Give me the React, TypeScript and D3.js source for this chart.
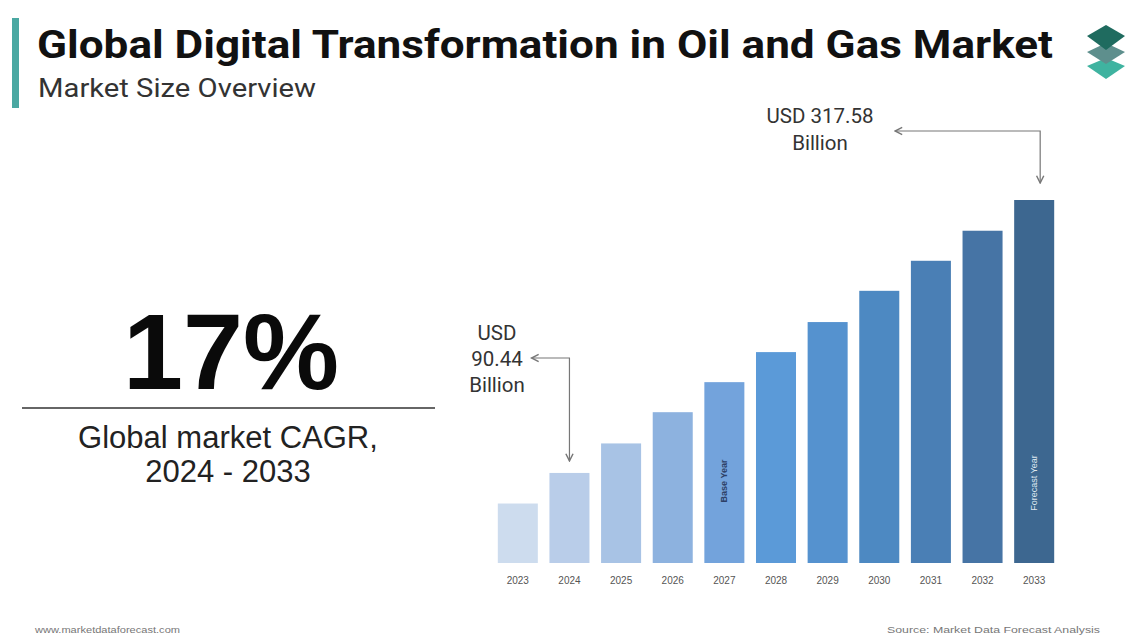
import React from 'react';
import * as d3 from 'd3';

// Market size by year (USD billion)
const years = ['2023', '2024', '2025', '2026', '2027', '2028', '2029', '2030', '2031', '2032', '2033'];
const marketSize = [65, 90.44, 115, 141, 166, 191, 216, 242, 267, 292, 317.58];
const barColors = [
  '#cddcee', '#b9cde9', '#a8c3e5', '#8db2df', '#73a3dc', '#5b9ad8',
  '#5592cf', '#4d89c2', '#4a7fb5', '#4674a5', '#3d6790',
];
const startLabel = ['USD', '90.44', 'Billion'];
const endLabel = ['USD 317.58', 'Billion'];

const W = 1135;
const H = 637;
const baseY = 563;

export default function App() {
  const x = d3.scaleBand<string>()
    .domain(years)
    .range([492, 1060])
    .paddingInner(0.225)
    .paddingOuter(0.1125);

  // the bars are drawn from an offset baseline, not from zero
  const y = d3.scaleLinear()
    .domain([15.5, d3.max(marketSize) as number])
    .range([baseY, 200]);

  const bw = x.bandwidth();
  const cx = (yr: string) => (x(yr) as number) + bw / 2;

  // annotation anchors
  const firstX = cx('2024');
  const firstTop = y(marketSize[1]);
  const lastX = cx('2033') + 6;
  const lastTop = y(marketSize[10]);

  return (
    <svg
      width={W}
      height={H}
      style={{ position: 'absolute', left: 0, top: 0, background: '#fff' }}
    >
      <defs>
        <marker id="head" viewBox="0 0 8 8" refX="7" refY="4" markerWidth="8" markerHeight="8" orient="auto-start-reverse">
          <path d="M1,1 L7,4 L1,7" fill="none" stroke="#777" strokeWidth={1.2} />
        </marker>
      </defs>

      {/* header */}
      <rect x={12} y={18} width={7} height={90} fill="#4aa8a2" />
      <text x={37} y={58} fontFamily="Roboto" fontWeight={700} fontSize={39} fill="#111" textLength={1016} lengthAdjust="spacingAndGlyphs">
        Global Digital Transformation in Oil and Gas Market
      </text>
      <text x={38} y={97} fontFamily="Roboto" fontSize={25} fill="#333" textLength={278} lengthAdjust="spacingAndGlyphs">
        Market Size Overview
      </text>

      {/* logo */}
      <g transform="translate(1106,0)">
        <path d="M0,58 L19,66 L0,79 L-19,66 Z" fill="#3fb3a0" />
        <path d="M0,43 L19,52 L0,64 L-19,52 Z" fill="#5e8f8d" />
        <path d="M0,25 L19,36 L0,50 L-19,36 Z" fill="#1f6b5f" />
      </g>

      {/* CAGR block */}
      <text x={231} y={389} textAnchor="middle" fontFamily="Liberation Sans" fontWeight={700} fontSize={108} fill="#0a0a0a">
        17%
      </text>
      <line x1={22} x2={435} y1={408} y2={408} stroke="#333" strokeWidth={1.3} />
      <text x={228} y={448} textAnchor="middle" fontFamily="Liberation Sans" fontSize={31} fill="#222">
        Global market CAGR,
      </text>
      <text x={228} y={482} textAnchor="middle" fontFamily="Liberation Sans" fontSize={31} fill="#222">
        2024 - 2033
      </text>

      {/* bars */}
      {years.map((yr, i) => (
        <rect
          key={yr}
          x={x(yr)}
          y={y(marketSize[i])}
          width={bw}
          height={baseY - y(marketSize[i])}
          fill={barColors[i]}
        />
      ))}

      {/* year labels */}
      {years.map(yr => (
        <text key={yr} x={cx(yr)} y={584} textAnchor="middle" fontFamily="Liberation Sans Narrow, Liberation Sans" fontSize={10} fill="#555">
          {yr}
        </text>
      ))}

      {/* in-bar labels */}
      <text
        transform={`translate(${cx('2027') + 3},481) rotate(-90)`}
        textAnchor="middle"
        fontFamily="Liberation Sans"
        fontWeight={700}
        fontSize={9}
        fill="#2d3f66"
      >
        Base Year
      </text>
      <text
        transform={`translate(${cx('2033') + 3},483) rotate(-90)`}
        textAnchor="middle"
        fontFamily="Liberation Sans"
        fontSize={9}
        fill="#dfe7f0"
      >
        Forecast Year
      </text>

      {/* start annotation */}
      {startLabel.map((t, i) => (
        <text key={t} x={497} y={340 + i * 26} textAnchor="middle" fontFamily="Roboto" fontSize={20.5} fill="#333">
          {t}
        </text>
      ))}
      <path
        d={`M${firstX - 38},358 H${firstX} V${firstTop - 12}`}
        fill="none"
        stroke="#777"
        strokeWidth={1.2}
        markerStart="url(#head)"
        markerEnd="url(#head)"
      />

      {/* end annotation */}
      {endLabel.map((t, i) => (
        <text key={t} x={820} y={123 + i * 27} textAnchor="middle" fontFamily="Roboto" fontSize={20.5} fill="#333">
          {t}
        </text>
      ))}
      <path
        d={`M895,131 H${lastX} V${lastTop - 17}`}
        fill="none"
        stroke="#777"
        strokeWidth={1.2}
        markerStart="url(#head)"
        markerEnd="url(#head)"
      />

      {/* footer */}
      <text x={35} y={633} fontFamily="Liberation Sans Narrow, Liberation Sans" fontSize={9} fill="#777" textLength={145} lengthAdjust="spacingAndGlyphs">
        www.marketdataforecast.com
      </text>
      <text x={887} y={633} fontFamily="Liberation Sans Narrow, Liberation Sans" fontSize={9} fill="#777" textLength={213} lengthAdjust="spacingAndGlyphs">
        Source: Market Data Forecast Analysis
      </text>
    </svg>
  );
}
